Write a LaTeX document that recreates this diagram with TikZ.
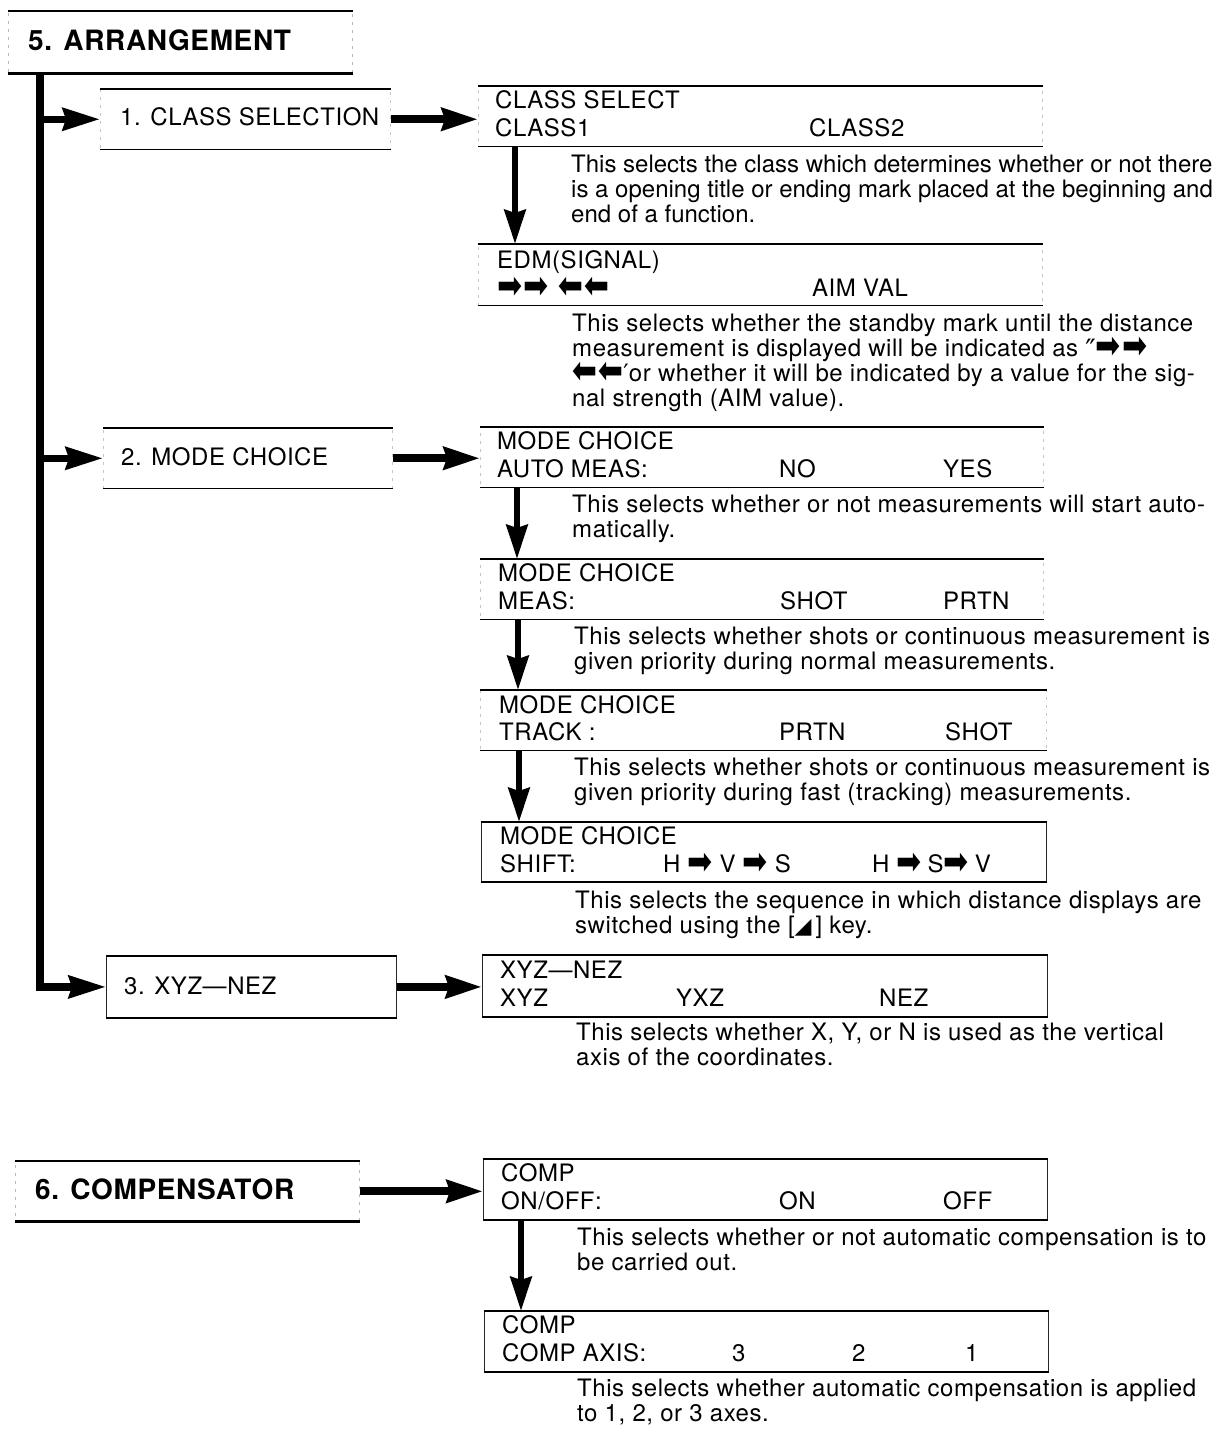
\documentclass[tikz,border=0pt]{standalone}
\usepackage{graphicx}
\usepackage{fontspec}
\setmainfont{TeX Gyre Heros}[LetterSpace=2.3]
\newfontfamily\tightfont{TeX Gyre Heros}
\newfontfamily\symfont{DejaVu Sans}
\usetikzlibrary{arrows.meta,calc}
\newcommand{\myra}{\smash{\raisebox{2.6pt}{$\vcenter{\hbox{\scalebox{1.5}[1.9]{\symfont\fontsize{20}{20}\selectfont ➡}}}$}}}
\newcommand{\myla}{\reflectbox{\myra}}
\newcommand{\mykey}{\raisebox{0.5pt}{\symfont\fontsize{22}{22}\selectfont ◢}}
\newcommand{\myquote}{\smash{\raisebox{-3pt}{\symfont\fontsize{28}{24}\selectfont ″}}}
\newcommand{\myapos}{{\symfont ′}}
\begin{document}
\begin{tikzpicture}[x=1pt,y=-1pt,
  font=\fontsize{24}{24.8}\selectfont,
  hline/.style={draw=black, solid, line width=1.8pt, -},
  thline/.style={draw=black, solid, line width=2.4pt, -},
  frame/.style={rectangle, inner sep=0, anchor=north west,
    draw=gray!45, line width=0.5pt, dash pattern=on 3pt off 5pt,
    append after command={(\tikzlastnode.north west) edge[hline] (\tikzlastnode.north east)
      (\tikzlastnode.south west) edge[hline] (\tikzlastnode.south east)}},
  closed/.style={frame, draw=black!85, solid, line width=0.8pt},
  tframe/.style={rectangle, inner sep=0, anchor=north west,
    draw=gray!55, line width=0.6pt, dash pattern=on 3pt off 5pt,
    append after command={(\tikzlastnode.north west) edge[thline] (\tikzlastnode.north east)
      (\tikzlastnode.south west) edge[thline] (\tikzlastnode.south east)}},
  lbl/.style={anchor=base west, inner sep=0, yshift=-8.6pt},
  ttl/.style={anchor=base west, inner sep=0, yshift=-10pt, font=\fontsize{28}{30}\selectfont\bfseries},
  dsc/.style={anchor=north west, inner sep=0, yshift=8.8pt, align=left},
  tree/.style={line width=7.5pt, -{Stealth[length=37pt,width=22pt,inset=3pt]}},
  harrow/.style={line width=8pt, -{Stealth[length=36pt,width=22pt,inset=3pt]}},
  varrow/.style={line width=6.5pt, -{Stealth[length=34pt,width=21pt,inset=3pt]}}
]
\fill[white] (0,0) rectangle (1220,1433);
\useasboundingbox (0,0) rectangle (1220,1433);

% ---------- boxes ----------
\node[tframe, minimum width=344pt, minimum height=62pt] (t5) at (8,11) {};
\node[frame,  minimum width=290pt, minimum height=60pt] (b1) at (100,89) {};
\node[frame,  minimum width=564pt, minimum height=60pt] (r1) at (478,86) {};
\node[frame,  minimum width=564pt, minimum height=61pt] (r2) at (478,244) {};
\node[frame,  minimum width=289pt, minimum height=60pt] (b2) at (103,428) {};
\node[frame,  minimum width=563pt, minimum height=60pt] (r3) at (480,427) {};
\node[frame,  minimum width=563pt, minimum height=60pt] (r4) at (480,559) {};
\node[frame,  minimum width=566pt, minimum height=60pt] (r5) at (480,690) {};
\node[closed, minimum width=565pt, minimum height=59pt] (r6) at (481,822) {};
\node[closed, minimum width=290pt, minimum height=61pt] (b3) at (106,956) {};
\node[closed, minimum width=565pt, minimum height=61pt] (r7) at (482,955) {};
\node[tframe, minimum width=344pt, minimum height=60pt] (t6) at (15,1161) {};
\node[closed, minimum width=564pt, minimum height=60pt] (c1) at (483,1159) {};
\node[closed, minimum width=564pt, minimum height=60pt] (c2) at (484,1311) {};

% ---------- connectors ----------
\coordinate (trunk) at ($(t5.south west)+(32,0)$);
\draw[tree] (trunk) |- (b3.west);
\draw[tree] (trunk |- b1.west) -- (b1.west);
\draw[tree] (trunk |- b2.west) -- (b2.west);

\draw[harrow] (b1.east) -- (b1.east -| r1.west);
\draw[harrow] (b2.east) -- (b2.east -| r3.west);
\draw[harrow] (b3.east) -- (b3.east -| r7.west);
\draw[harrow] (t6.east) -- (t6.east -| c1.west);

\draw[varrow] ([xshift=37pt]r1.south west) -- ([xshift=37pt]r1.south west |- r2.north);
\draw[varrow] ([xshift=37pt]r3.south west) -- ([xshift=37pt]r3.south west |- r4.north);
\draw[varrow] ([xshift=38pt]r4.south west) -- ([xshift=38pt]r4.south west |- r5.north);
\draw[varrow] ([xshift=39pt]r5.south west) -- ([xshift=39pt]r5.south west |- r6.north);
\draw[varrow] ([xshift=38pt]c1.south west) -- ([xshift=38pt]c1.south west |- c2.north);

% ---------- texts ----------
\node[ttl] (t5l) at (28,40) {5. ARRANGEMENT};
\node[lbl] (b1l) at (120,117) {1. CLASS SELECTION};
\node[lbl] (r1a) at (495,100) {CLASS SELECT};
\node[lbl] (r1b) at (495,128) {CLASS1};
\node[lbl] (r1c) at (809,128) {CLASS2};
\node[dsc, font={\tightfont\fontsize{24}{24.8}\selectfont}] (d1) at (571,164) {This selects the class which determines whether or not there\\
is a opening title or ending mark placed at the beginning and\\
end of a function.};

\node[lbl] (r2a) at (497,260) {EDM(SIGNAL)};
\node[lbl] (r2b) at (497,288) {\myra\hspace{1pt}\myra\hspace{10pt}\myla\hspace{1pt}\myla};
\node[lbl] (r2c) at (812,288) {AIM VAL};
\node[dsc] (d2) at (572,323) {This selects whether the standby mark until the distance\\
measurement is displayed will be indicated as \myquote\myra\hspace{1pt}\myra\\
\myla\hspace{1pt}\myla\myapos or whether it will be indicated by a value for the sig-\\
nal strength (AIM value).};

\node[lbl] (b2l) at (121,457) {2. MODE CHOICE};
\node[lbl] (r3a) at (497,441) {MODE CHOICE};
\node[lbl] (r3b) at (497,469) {AUTO MEAS:};
\node[lbl] (r3c) at (779,469) {NO};
\node[lbl] (r3d) at (943,469) {YES};
\node[dsc] (d3) at (572,504) {This selects whether or not measurements will start auto-\\
matically.};

\node[lbl] (r4a) at (498,573) {MODE CHOICE};
\node[lbl] (r4b) at (498,601) {MEAS:};
\node[lbl] (r4c) at (780,601) {SHOT};
\node[lbl] (r4d) at (943,601) {PRTN};
\node[dsc] (d4) at (574,636) {This selects whether shots or continuous measurement is\\
given priority during normal measurements.};

\node[lbl] (r5a) at (499,705) {MODE CHOICE};
\node[lbl] (r5b) at (499,732) {TRACK :};
\node[lbl] (r5c) at (779,732) {PRTN};
\node[lbl] (r5d) at (945,732) {SHOT};
\node[dsc] (d5) at (574,767) {This selects whether shots or continuous measurement is\\
given priority during fast (tracking) measurements.};

\node[lbl] (r6a) at (500,836) {MODE CHOICE};
\node[lbl] (r6b) at (500,864) {SHIFT:};
\node[lbl] (r6c) at (663,864) {H\hspace{7pt}\myra\hspace{7pt}V\hspace{7pt}\myra\hspace{7pt}S};
\node[lbl] (r6d) at (872,864) {H\hspace{7pt}\myra\hspace{6pt}S\myra\hspace{6pt}V};
\node[dsc] (d6) at (575,900) {This selects the sequence in which distance displays are\\
switched using the [\mykey\,] key.};

\node[lbl] (b3l) at (124,986) {3. XYZ—NEZ};
\node[lbl] (r7a) at (500,970) {XYZ—NEZ};
\node[lbl] (r7b) at (500,998) {XYZ};
\node[lbl] (r7c) at (676,998) {YXZ};
\node[lbl] (r7d) at (879,998) {NEZ};
\node[dsc] (d7) at (576,1032) {This selects whether X, Y, or N is used as the vertical\\
axis of the coordinates.};

\node[ttl] (t6l) at (35,1189) {6. COMPENSATOR};
\node[lbl] (c1a) at (501,1173) {COMP};
\node[lbl] (c1b) at (501,1201) {ON/OFF:};
\node[lbl] (c1c) at (779,1201) {ON};
\node[lbl] (c1d) at (943,1201) {OFF};
\node[dsc] (d8) at (577,1237) {This selects whether or not automatic compensation is to\\
be carried out.};

\node[lbl] (c2a) at (502,1325) {COMP};
\node[lbl] (c2b) at (502,1353) {COMP AXIS:};
\node[lbl] (c2c) at (732,1353) {3};
\node[lbl] (c2d) at (852,1353) {2};
\node[lbl] (c2e) at (965,1353) {1};
\node[dsc] (d9) at (577,1388) {This selects whether automatic compensation is applied\\
to 1, 2, or 3 axes.};
\end{tikzpicture}
\end{document}
